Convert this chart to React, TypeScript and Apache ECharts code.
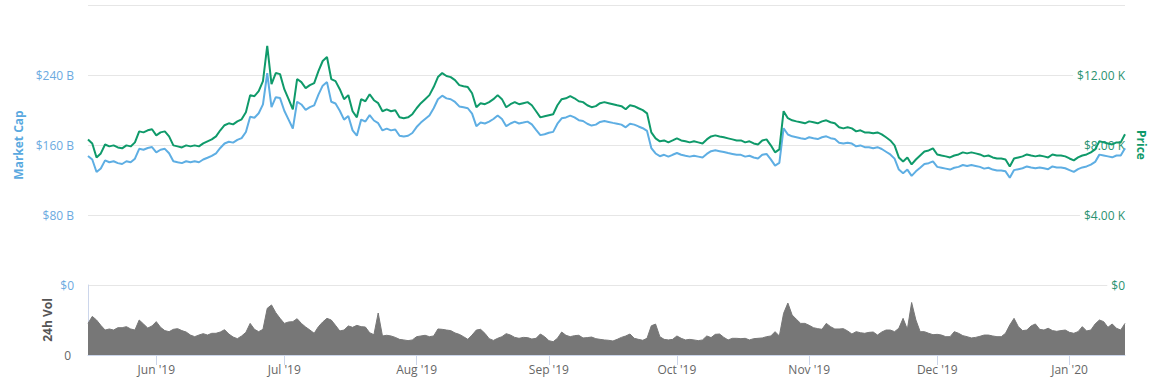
import React, { useEffect, useRef } from "react";
import * as echarts from "echarts";

// Daily samples from 16 May 2019 to 14 Jan 2020
const START_DATE = Date.UTC(2019, 4, 16);

// Price (USD)
const price: number[] = [
  8320, 8090, 7290, 7520, 8030, 7920, 7980, 7860, 7810, 7980, 7920, 8150, 8780, 8720, 8840, 8900,
  8550, 8720, 8780, 8490, 7980, 7920, 7860, 7980, 7920, 7980, 7920, 8090, 8210, 8320, 8490, 8840,
  9130, 9240, 9180, 9350, 9470, 9870, 10850, 10790, 11080, 11650, 13660, 11480, 12110, 12050,
  11190, 10620, 10040, 11770, 11590, 11250, 11420, 11540, 12220, 12800, 13030, 11770, 11650, 11190,
  10620, 10850, 9930, 9580, 10620, 10500, 10900, 10560, 10390, 9930, 10040, 9930, 9990, 9580, 9530,
  9580, 9760,
  10100, 10390, 10620, 10850, 11310, 11880, 12110, 11940, 11880, 11710, 11420, 11360, 11310, 10960,
  10160, 10390, 10330, 10450, 10620, 10850, 10620, 10160, 10330, 10450, 10330, 10390, 10450, 10270,
  9930, 9580, 9640,
  9700, 9760, 10270, 10620, 10670, 10790, 10670, 10500, 10450, 10270, 10160, 10220, 10390, 10450,
  10390, 10330, 10270, 10220, 10040, 10270, 10220, 10100, 9990, 9810, 8720, 8380, 8210,
  8260, 8150, 8260, 8380, 8260, 8210, 8150, 8210, 8150, 8090, 8320, 8490, 8550, 8490, 8440, 8380,
  8320, 8260, 8260, 8150, 8210, 8090, 8030, 8260, 8320, 7980, 7580, 7750,
  9930, 9530, 9410, 9350, 9300, 9240, 9350, 9300, 9240, 9350, 9410, 9300, 9240, 9010, 8950, 9010,
  8950, 8780, 8840, 8720, 8720, 8670, 8720, 8610, 8440, 8260,
  7980, 7290, 7060, 7290, 6890, 7170, 7400, 7630, 7690, 7810, 7460, 7400, 7350, 7290, 7400, 7460,
  7580, 7520, 7580, 7520, 7460, 7350, 7400, 7290, 7230, 7230, 7170, 6770,
  7230, 7290, 7350, 7460, 7400, 7350, 7400, 7350, 7290, 7460, 7400, 7400, 7350, 7230, 7120, 7290,
  7400, 7460, 7580, 7750, 8210, 8150, 8090, 8030, 8150, 8150, 8610,
];

// Market cap (billion USD)
const marketCap: number[] = [
  147.5, 143.4, 129.2, 133.2, 142.4, 140.3, 141.4, 139.3, 138.3, 141.4, 140.3, 144.4, 155.6, 154.6,
  156.6, 157.6, 151.5, 154.6, 155.6, 150.5, 141.4, 140.3, 139.3, 141.4, 140.3, 141.4, 140.3, 143.4,
  145.4, 147.5, 150.5, 156.6, 161.7, 163.7, 162.7, 165.8, 167.8, 174.9, 192.2, 191.2, 196.3, 206.5,
  242.0, 203.4, 214.6, 213.6,
  199.2, 189.0, 178.8, 209.4, 206.3, 200.2, 203.3, 205.3, 217.6, 227.8, 231.9, 209.4, 207.4, 199.2,
  189.0, 193.1, 176.7, 170.6, 189.0, 186.9, 194.1, 188.0, 184.9, 176.7, 178.8, 176.7, 177.7, 170.6,
  169.6, 170.6, 173.7,
  180.5, 185.6, 189.7, 193.8, 202.0, 212.3, 216.4, 213.3, 212.3, 209.2, 204.1, 203.1, 202.0, 195.9,
  181.5, 185.6, 184.6, 186.7, 189.7, 193.8, 189.7, 181.5, 184.6, 186.7, 184.6, 185.6, 186.7, 183.6,
  177.4, 171.3, 172.3,
  174.0, 175.0, 184.3, 190.5, 191.5, 193.6, 191.5, 188.4, 187.4, 184.3, 182.2, 183.3, 186.4, 187.4,
  186.4, 185.3, 184.3, 183.3, 180.2, 184.3, 183.3, 181.2, 179.2, 176.1, 156.5, 150.3, 147.2,
  148.8, 146.7, 148.8, 150.8, 148.8, 147.7, 146.7, 147.7, 146.7, 145.7, 149.8, 152.9, 153.9, 152.9,
  151.9, 150.8, 149.8, 148.8, 148.8, 146.7, 147.7, 145.7, 144.6, 148.8, 149.8, 143.6, 136.4, 139.5,
  179.2, 172.0, 169.9, 168.9, 167.8, 166.8, 168.9, 167.8, 166.8, 168.9, 169.9, 167.8, 166.8, 162.6,
  161.6, 162.6, 161.6, 158.5, 159.5, 157.5, 157.5, 156.4, 157.5, 155.4, 152.3, 149.2,
  144.4, 131.9, 127.8, 131.9, 124.7, 129.9, 134.0, 138.2, 139.2, 141.3, 135.0, 134.0, 133.0, 131.9,
  134.0, 135.0, 137.1, 136.1, 137.1, 136.1, 135.0, 133.0, 134.0, 131.9, 130.9, 130.9, 129.9, 122.6,
  131.3, 132.4, 133.4, 135.5, 134.4, 133.4, 134.4, 133.4, 132.4, 135.5, 134.4, 134.4, 133.4, 131.3,
  129.2, 132.4, 134.4, 135.5, 137.6, 140.7, 149.0, 148.0, 147.0, 145.9, 148.0, 148.0, 156.3,
];

// 24h volume (billion USD)
const volume: number[] = [
  27.1, 33.1, 30.0, 25.4, 21.4, 22.3, 21.4, 23.4, 23.4, 24.3, 22.3, 21.4, 30.0, 26.6, 23.1, 24.9,
  28.6, 23.7, 20.9, 20.0, 22.0, 22.6, 20.9, 19.7, 17.1, 15.7, 17.1, 18.3, 17.1, 18.6, 18.6, 19.7,
  21.7, 18.0, 15.4, 14.0, 16.3, 19.4, 27.1, 22.0, 20.0, 22.0, 40.0, 42.9, 36.3, 31.4,
  27.1, 28.3, 28.6, 31.1, 27.1, 24.0, 21.4, 18.6, 24.3, 28.3, 31.4, 30.0, 25.4, 20.6, 21.4, 24.9,
  23.7, 25.4, 24.3, 24.0, 19.1, 17.4, 36.0, 16.3, 16.9, 16.3, 15.1, 13.4, 12.9, 12.3, 12.9,
  15.7, 16.3, 16.9, 15.7, 16.3, 22.3, 22.0, 21.4, 20.9, 18.9, 17.7, 15.7, 13.4, 17.1, 21.4, 22.0,
  18.6, 14.0, 12.5, 14.3, 15.7, 18.3, 17.1, 15.1, 14.3, 15.1, 14.9, 13.7, 14.3, 18.0, 15.7,
  12.3, 11.4, 14.3, 19.7, 16.9, 15.7, 16.6, 16.9, 14.6, 14.9, 15.4, 14.0, 13.4, 12.9, 12.6, 12.0,
  13.4, 15.1, 16.3, 18.0, 14.3, 13.4, 12.6, 14.3, 25.0, 26.5, 15.7,
  13.4, 12.9, 13.4, 16.3, 14.3, 12.9, 13.4, 12.9, 12.3, 12.9, 16.3, 14.9, 17.7, 18.0, 15.1, 12.9,
  14.3, 14.3, 14.0, 14.3, 12.9, 14.0, 14.3, 14.6, 15.7, 16.3, 20.0, 16.3,
  35.7, 44.5, 34.3, 30.6, 27.1, 27.1, 25.4, 23.4, 22.6, 22.0, 27.1, 24.3, 22.3, 22.3, 22.6, 20.6,
  18.0, 20.0, 19.1, 18.6, 19.4, 19.7, 17.1, 19.7, 21.4, 21.4,
  20.0, 22.9, 31.4, 22.0, 45.0, 30.0, 20.0, 20.0, 18.6, 17.4, 17.7, 17.1, 15.7, 15.7, 20.0, 18.6,
  16.6, 15.7, 14.6, 15.1, 16.0, 17.1, 17.1, 16.3, 15.7, 15.7, 18.6, 25.7,
  31.4, 24.3, 20.9, 21.4, 24.9, 26.6, 22.0, 21.4, 22.9, 20.9, 20.3, 20.9, 21.4, 19.4, 18.6, 20.0,
  24.3, 20.6, 21.4, 26.6, 30.0, 28.6, 23.7, 26.6, 22.9, 21.4, 27.1,
];

const MONTHS = ["Jan", "Feb", "Mar", "Apr", "May", "Jun", "Jul", "Aug", "Sep", "Oct", "Nov", "Dec"];

const dates: string[] = price.map((_, i) =>
  new Date(START_DATE + i * 86400000).toISOString().slice(0, 10)
);

const isMonthStart = (_i: number, v: string) => v.slice(8, 10) === "01";
const monthLabel = (v: string) => {
  const [y, m] = v.split("-");
  return `${MONTHS[Number(m) - 1]} '${y.slice(2)}`;
};

const FONT = "Open Sans";
const BLUE = "#5eaee3";
const GREEN = "#0f9a6a";

export default function App() {
  const ref = useRef<HTMLDivElement>(null);

  useEffect(() => {
    if (!ref.current) return;
    const chart = echarts.init(ref.current, undefined, { renderer: "svg" });
    chart.setOption({
      animation: false,
      backgroundColor: "#ffffff",
      textStyle: { fontFamily: FONT },
      grid: [
        { left: 88, right: 31, top: 5, height: 280 },
        { left: 88, right: 31, top: 285, height: 70 },
      ],
      xAxis: [
        { type: "category", gridIndex: 0, data: dates, boundaryGap: false, show: false },
        {
          type: "category",
          gridIndex: 1,
          data: dates,
          boundaryGap: false,
          axisLine: { lineStyle: { color: "#ccd6eb", width: 1 } },
          axisTick: { interval: isMonthStart, length: 10, lineStyle: { color: "#ccd6eb" } },
          axisLabel: {
            interval: isMonthStart,
            formatter: monthLabel,
            color: "#666666",
            fontSize: 12,
            fontFamily: FONT,
            margin: 8,
          },
          splitLine: { show: false },
        },
      ],
      yAxis: [
        {
          type: "value",
          gridIndex: 0,
          position: "left",
          min: 0,
          max: 320,
          interval: 80,
          name: "Market Cap",
          nameLocation: "middle",
          nameRotate: 90,
          nameGap: 62,
          nameTextStyle: { color: "#5aa9e0", fontWeight: "bold", fontSize: 12, fontFamily: FONT },
          axisLine: { show: false },
          axisTick: { show: false },
          axisLabel: {
            formatter: (v: number) => (v === 0 ? "$0" : `$${v} B`),
            color: "#6caadf",
            fontSize: 12,
            fontFamily: FONT,
            margin: 14,
            showMaxLabel: false,
          },
          splitLine: { lineStyle: { color: "#e6e6e6", width: 1 } },
        },
        {
          type: "value",
          gridIndex: 0,
          position: "right",
          min: 0,
          max: 16000,
          interval: 4000,
          z: 1,
          name: "Price",
          nameLocation: "middle",
          nameRotate: -90,
          nameGap: 8,
          nameTextStyle: { color: GREEN, fontWeight: "bold", fontSize: 12, fontFamily: FONT },
          axisLine: { show: false },
          axisTick: { show: false },
          axisLabel: {
            inside: true,
            margin: 0,
            formatter: (v: number) => (v === 0 ? "$0" : `$${(v / 1000).toFixed(2)} K`),
            color: "#2a9270",
            fontSize: 12,
            fontFamily: FONT,
            showMaxLabel: false,
            backgroundColor: "#ffffff",
            padding: [1, 0, 1, 4],
          },
          splitLine: { show: false },
        },
        {
          type: "value",
          gridIndex: 1,
          min: 0,
          max: 60,
          interval: 60,
          name: "24h Vol",
          nameLocation: "middle",
          nameRotate: 90,
          nameGap: 33,
          nameTextStyle: { color: "#555555", fontWeight: "bold", fontSize: 12, fontFamily: FONT },
          axisLine: { show: true, lineStyle: { color: "#ccd6eb" } },
          axisTick: { show: false },
          axisLabel: {
            formatter: (v: number) => (v === 0 ? "0" : ""),
            color: "#666666",
            fontSize: 12,
            fontFamily: FONT,
            margin: 17,
          },
          splitLine: { show: false },
        },
      ],
      series: [
        {
          name: "Market Cap",
          type: "line",
          xAxisIndex: 0,
          yAxisIndex: 0,
          data: marketCap,
          symbol: "none",
          lineStyle: { color: BLUE, width: 2 },
          z: 2,
        },
        {
          name: "Price",
          type: "line",
          xAxisIndex: 0,
          yAxisIndex: 1,
          data: price,
          symbol: "none",
          lineStyle: { color: GREEN, width: 2 },
          z: 3,
        },
        {
          name: "24h Vol",
          type: "line",
          xAxisIndex: 1,
          yAxisIndex: 2,
          data: volume,
          symbol: "none",
          lineStyle: { color: "#777777", width: 1 },
          areaStyle: { color: "#777777", opacity: 1 },
          z: 2,
        },
      ],
    });
    return () => chart.dispose();
  }, []);

  return (
    <div
      ref={ref}
      style={{ position: "fixed", left: 0, top: 0, width: 1156, height: 392, background: "#fff" }}
    />
  );
}
